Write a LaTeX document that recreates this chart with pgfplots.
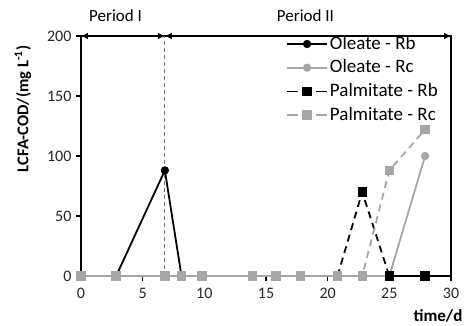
\documentclass[border=0pt]{standalone}
\usepackage{pgfplots}
\pgfplotsset{compat=1.18}
\usepackage{fontspec}
\setmainfont{Carlito}
\usetikzlibrary{arrows.meta}
\definecolor{lgray}{RGB}{166,166,166}
\definecolor{dgray}{RGB}{120,120,120}
\begin{document}
\begin{tikzpicture}
\begin{axis}[
  scale only axis, width=370pt, height=240pt,
  xmin=0, xmax=30, ymin=0, ymax=200,
  xtick={0,5,...,30}, ytick={0,50,...,200},
  xtick pos=bottom, ytick pos=left,
  tick align=outside, major tick length=5pt,
  axis line style={line width=1.3pt},
  every tick/.style={black, line width=1.1pt},
  /pgf/number format/assume math mode=true,
  tick label style={font=\fontsize{16}{18}\selectfont, text=black!85},
  xticklabel style={yshift=-4pt},
  yticklabel style={xshift=-1pt},
  clip=false,
  xlabel={\textbf{time/d}},
  xlabel style={font=\fontsize{17}{19}\selectfont, at={(axis description cs:0.965,-0.1667)}, anchor=center},
  ylabel={\textbf{LCFA-COD/(mg L\textsuperscript{-1})}},
  ylabel style={font=\fontsize{16.5}{19}\selectfont, at={(axis description cs:-0.157,0.696)}, anchor=center},
  legend style={draw=none, fill=none, at={(axis description cs:0.554,1.005)}, anchor=north west,
     font=\fontsize{19}{23}\selectfont, row sep=5.7pt, inner sep=0pt,
     nodes={inner ysep=0pt, inner xsep=2pt, text height=14pt, text depth=4pt}},
  legend cell align=left,
  legend image code/.code={\draw[mark repeat=2,mark phase=2] plot coordinates {(0pt,0pt)(20pt,0pt)(40pt,0pt)};},
]
\addplot[black, line width=1.8pt, mark=*, mark size=3.2pt, mark options={solid}] coordinates {
(0,0)(2.85,0)(6.8,88)(8.15,0)(9.8,0)(13.9,0)(15.8,0)(17.8,0)(20.8,0)(22.8,0)(25,0)(27.9,0)};
\addlegendentry{Oleate - Rb}
\addplot[lgray, line width=1.8pt, mark=*, mark size=3.2pt, mark options={solid}] coordinates {
(0,0)(2.85,0)(6.8,0)(8.15,0)(9.8,0)(13.9,0)(15.8,0)(17.8,0)(20.8,0)(22.8,0)(25,0)(27.9,100)};
\addlegendentry{Oleate - Rc}
\addplot[black, line width=1.8pt, dash pattern=on 7pt off 5pt, mark=square*, mark size=3.8pt, mark options={solid},
  legend image post style={dash pattern=on 11pt off 18pt}] coordinates {
(20.8,0)(22.8,70)(25,0)(27.9,0)};
\addlegendentry{Palmitate - Rb}
\addplot[lgray, line width=1.8pt, dash pattern=on 7pt off 5pt, mark=square*, mark size=3.8pt, mark options={solid},
  legend image post style={dash pattern=on 11pt off 18pt}] coordinates {
(0,0)(2.85,0)(6.8,0)(8.15,0)(9.8,0)(13.9,0)(15.8,0)(17.8,0)(20.8,0)(22.8,0)(25,88)(27.9,122)};
\addlegendentry{Palmitate - Rc}
\draw[dgray, line width=0.9pt, dash pattern=on 4pt off 3pt] (axis cs:6.8,0) -- (axis cs:6.8,200);
\draw[line width=1.3pt, {Latex[length=7pt,width=7pt]}-{Latex[length=7pt,width=7pt]}] (axis cs:0,200) -- (axis cs:6.8,200);
\draw[line width=1.3pt, {Latex[length=7pt,width=7pt]}-{Latex[length=7pt,width=7pt]}] (axis cs:6.8,200) -- (axis cs:30,200);
\node[font=\fontsize{17}{19}\selectfont] at (axis cs:2.8,217) {Period I};
\node[font=\fontsize{17}{19}\selectfont] at (axis cs:18.2,217) {Period II};
\coordinate (sw) at (rel axis cs:0,0);
\coordinate (ne) at (rel axis cs:1,1);
\end{axis}
\pgfresetboundingbox
\path ([shift={(-81pt,-49pt)}]sw) rectangle ([shift={(17pt,36pt)}]ne);
\end{tikzpicture}
\end{document}
